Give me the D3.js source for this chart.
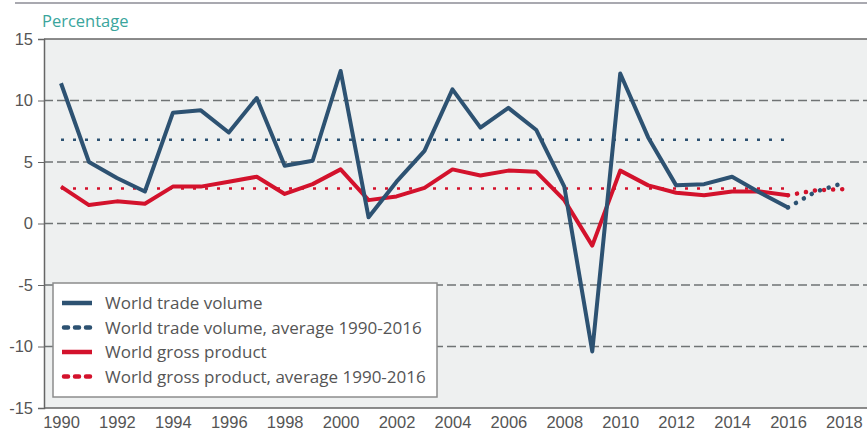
<!DOCTYPE html>
<html>
<head>
<meta charset="utf-8">
<script src="https://cdn.jsdelivr.net/npm/d3@7"></script>
<style>
  body { margin: 0; background: #fff; }
  svg { display: block; font-family: "Open Sans", sans-serif; }
  .tick text { fill: #555; font-size: 16.5px; }
</style>
</head>
<body>
<svg id="chart" width="867" height="434"></svg>
<script>
var years = d3.range(1990, 2017);
var tradeVolume = [11.4, 5.0, 3.7, 2.6, 9.0, 9.2, 7.4, 10.2, 4.7, 5.1,
  12.4, 0.5, 3.4, 5.9, 10.9, 7.8, 9.4, 7.6, 3.0, -10.4,
  12.2, 7.0, 3.1, 3.2, 3.8, 2.5, 1.3];
var grossProduct = [3.0, 1.5, 1.8, 1.6, 3.0, 3.0, 3.4, 3.8, 2.4, 3.2,
  4.4, 1.9, 2.2, 2.9, 4.4, 3.9, 4.3, 4.2, 1.9, -1.8,
  4.3, 3.1, 2.5, 2.3, 2.6, 2.6, 2.3];
var forecastYears = [2016, 2017, 2018];
var tradeForecast = [1.3, 2.6, 3.3];
var gdpForecast = [2.3, 2.7, 2.8];
var tradeAvg = 6.8;
var gdpAvg = 2.85;
var yTicks = [-15, -10, -5, 0, 5, 10, 15];
var xTicks = d3.range(1990, 2019, 2);
var legendLabels = ["World trade volume", "World trade volume, average 1990-2016",
  "World gross product", "World gross product, average 1990-2016"];

var blue = "#2d5272", red = "#d3122c";

var svg = d3.select("#chart");
var plotL = 44, plotT = 39, plotB = 408, plotR = 867;

var x = d3.scaleLinear().domain([1990, 2016]).range([61, 788]);
var y = d3.scaleLinear().domain([-15, 15]).range([plotB, plotT]);

// top rule
svg.append("line")
  .attr("x1", 15).attr("x2", 867).attr("y1", 3).attr("y2", 3)
  .style("stroke", "#a9a9b0").style("stroke-width", 2);

svg.append("text")
  .attr("x", 42).attr("y", 27)
  .attr("font-size", "16.5px")
  .attr("fill", "#3aa59c")
  .text("Percentage");

// plot background
svg.append("rect")
  .attr("x", plotL).attr("y", plotT)
  .attr("width", plotR - plotL).attr("height", plotB - plotT)
  .style("fill", "#eef0f0");

// dashed grid
svg.append("g").selectAll("line")
  .data(yTicks.filter(function(d) { return d > -15 && d < 15; }))
  .enter().append("line")
  .attr("x1", plotL).attr("x2", plotR)
  .attr("y1", y).attr("y2", y)
  .style("stroke", "#6f7374").style("stroke-width", 1.6)
  .style("stroke-dasharray", "9,4");

// frame
svg.append("line").attr("x1", plotL).attr("x2", plotR).attr("y1", plotT).attr("y2", plotT)
  .style("stroke", "#666").style("stroke-width", 1.5);

var yAxis = svg.append("g")
  .attr("transform", "translate(" + plotL + ",0)")
  .call(d3.axisLeft(y).tickValues(yTicks).tickSize(6).tickPadding(5)
    .tickFormat(function(d) { return String(d); }));
yAxis.select(".domain").style("stroke", "#666").style("stroke-width", 1.5);
yAxis.selectAll(".tick line").style("stroke", "#666");

var xAxis = svg.append("g")
  .attr("transform", "translate(0," + plotB + ")")
  .call(d3.axisBottom(x).tickValues(xTicks).tickFormat(d3.format("d")).tickSize(0).tickPadding(8));
xAxis.select(".domain").remove();
svg.append("line").attr("x1", plotL).attr("x2", plotR).attr("y1", plotB).attr("y2", plotB)
  .style("stroke", "#666").style("stroke-width", 1.5);

// averages
function avgLine(v, color) {
  svg.append("line")
    .attr("x1", x(1990)).attr("x2", x(2016))
    .attr("y1", y(v)).attr("y2", y(v))
    .style("stroke", color).style("stroke-width", 2.5)
    .style("stroke-dasharray", "3,9");
}
avgLine(tradeAvg, blue);
avgLine(gdpAvg, red);

var line = d3.line()
  .x(function(d) { return x(d[0]); })
  .y(function(d) { return y(d[1]); });

function series(xs, vals, color, dash) {
  svg.append("path")
    .datum(d3.zip(xs, vals))
    .attr("d", line)
    .style("fill", "none")
    .style("stroke", color)
    .style("stroke-width", dash ? 4.5 : 4)
    .style("stroke-linejoin", "round")
    .style("stroke-linecap", dash ? "round" : "butt")
    .style("stroke-dasharray", dash ? "0.1,9" : null);
}
series(years, grossProduct, red, false);
series(years, tradeVolume, blue, false);
series(forecastYears, gdpForecast, red, true);
series(forecastYears, tradeForecast, blue, true);

// legend
var legend = svg.append("g").attr("transform", "translate(53,283)");
legend.append("rect")
  .attr("width", 384).attr("height", 114)
  .style("fill", "#fff").style("stroke", "#8c8c8c").style("stroke-width", 1.5);

var items = legend.selectAll("g.item")
  .data(legendLabels)
  .enter().append("g")
  .attr("transform", function(d, i) { return "translate(9," + (20 + i * 24.5) + ")"; });

items.append("line")
  .attr("x1", function(d, i) { return i % 2 ? 2 : 0; })
  .attr("x2", 30)
  .style("stroke", function(d, i) { return i < 2 ? blue : red; })
  .style("stroke-width", 4.5)
  .style("stroke-linecap", function(d, i) { return i % 2 ? "round" : "butt"; })
  .style("stroke-dasharray", function(d, i) { return i % 2 ? "4,7" : null; });

items.append("text")
  .attr("x", 43).attr("y", 6)
  .attr("font-size", "17px")
  .attr("fill", "#555")
  .text(function(d) { return d; });
</script>
</body>
</html>
